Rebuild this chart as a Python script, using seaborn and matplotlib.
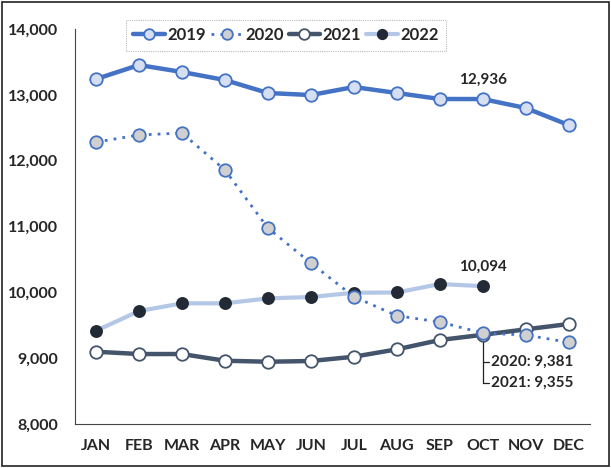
import numpy as np
import pandas as pd
import seaborn as sns
import matplotlib.pyplot as plt
from matplotlib.ticker import FuncFormatter, FixedLocator

months = ['JAN', 'FEB', 'MAR', 'APR', 'MAY', 'JUN', 'JUL', 'AUG', 'SEP', 'OCT', 'NOV', 'DEC']
y2019 = [13240, 13453, 13347, 13225, 13028, 12997, 13119, 13028, 12937, 12936, 12800, 12541]
y2020 = [12283, 12390, 12420, 11858, 10977, 10445, 9934, 9645, 9549, 9381, 9352, 9240]
y2021 = [9098, 9063, 9063, 8961, 8946, 8957, 9022, 9134, 9276, 9355, 9438, 9519]
y2022 = [9417, 9716, 9833, 9833, 9909, 9929, 9994, 9998, 10126, 10094]

sns.set_theme(style='white')
plt.rcParams['font.family'] = ['Lato', 'DejaVu Sans']
plt.rcParams['font.weight'] = 'bold'

fig = plt.figure(figsize=(6.11, 4.68), dpi=100)
ax = fig.add_axes([0.122, 0.094, 0.844, 0.844])

styles = {
    '2019': dict(color='#4472C4', lw=3.2, ls='-', mfc='#D6DFF2', mec='#4472C4', ms=9),
    '2020': dict(color='#4472C4', lw=2.0, ls=(0, (1, 2.2)), mfc='#D0D0D0', mec='#4472C4', ms=9),
    '2021': dict(color='#44546A', lw=3.2, ls='-', mfc='white', mec='#44546A', ms=9),
    '2022': dict(color='#B4C7E7', lw=3.0, ls='-', mfc='#222A35', mec='#222A35', ms=8),
}
series = {'2019': y2019, '2020': y2020, '2021': y2021, '2022': y2022}
draw_order = ['2022', '2021', '2020', '2019']

for name in draw_order:
    vals = series[name]
    st = styles[name]
    x = np.arange(len(vals))
    sns.lineplot(x=x, y=vals, ax=ax, color=st['color'], lw=st['lw'], linestyle=st['ls'],
                 marker='o', markersize=st['ms'], markerfacecolor=st['mfc'], markeredgecolor=st['mec'],
                 markeredgewidth=1.3, label=name)

h, l = ax.get_legend_handles_labels()
order = [l.index(n) for n in ['2019', '2020', '2021', '2022']]
leg = ax.legend([h[i] for i in order], [l[i] for i in order], loc='upper center',
                bbox_to_anchor=(0.41, 1.045), ncol=4, frameon=True, fontsize=12,
                handlelength=1.9, handletextpad=0.15, columnspacing=0.3, borderpad=0.45,
                markerscale=0.85)
leg.get_frame().set_linestyle((0, (1, 1)))
leg.get_frame().set_edgecolor('#AAAAAA')
leg.get_frame().set_linewidth(0.8)
leg.get_frame().set_boxstyle('square', pad=0)
for t in leg.get_texts():
    t.set_fontweight('bold')

ax.set_xlim(-0.5, 11.5)
ax.set_ylim(8000, 14000)
ax.set_xticks(range(12))
ax.set_xticklabels(months, fontsize=11.5, fontweight='bold')
ax.xaxis.set_minor_locator(FixedLocator(np.arange(-0.5, 12, 1)))
ax.tick_params(axis='x', which='major', length=0, pad=11)
ax.tick_params(axis='x', which='minor', length=5, width=0.8, color='#444444', direction='out')
ax.set_yticks(range(8000, 14001, 1000))
ax.yaxis.set_major_formatter(FuncFormatter(lambda v, p: f'{int(v):,}'))
ax.tick_params(axis='y', length=5, width=0.8, color='#444444', direction='out', labelsize=11.5, pad=7)
for t in ax.get_yticklabels():
    t.set_fontweight('bold')
for s in ['top', 'right']:
    ax.spines[s].set_visible(False)
for s in ['left', 'bottom']:
    ax.spines[s].set_color('#444444')
    ax.spines[s].set_linewidth(0.8)
ax.set_xlabel('')
ax.set_ylabel('')

ax.text(9, y2019[9] + 190, f'{y2019[9]:,}', ha='center', va='bottom', fontsize=11, fontweight='bold')
ax.text(9, y2022[9] + 190, f'{y2022[9]:,}', ha='center', va='bottom', fontsize=11, fontweight='bold')

# leader lines for OCT 2020 / 2021
ax.plot([9, 9], [y2021[9], 8620], color='#222222', lw=0.9, zorder=1)
ax.plot([9, 9.15], [8940, 8940], color='#222222', lw=0.9)
ax.plot([9, 9.15], [8620, 8620], color='#222222', lw=0.9)
ax.text(9.2, 8940, f'2020: {y2020[9]:,}', ha='left', va='center', fontsize=11, fontweight='bold')
ax.text(9.2, 8620, f'2021: {y2021[9]:,}', ha='left', va='center', fontsize=11, fontweight='bold')

fig.patches.append(plt.Rectangle((0.003, 0.004), 0.994, 0.992, transform=fig.transFigure,
                                 fill=False, edgecolor='#222222', lw=1.2))

fig.savefig('out.png', dpi=100)
